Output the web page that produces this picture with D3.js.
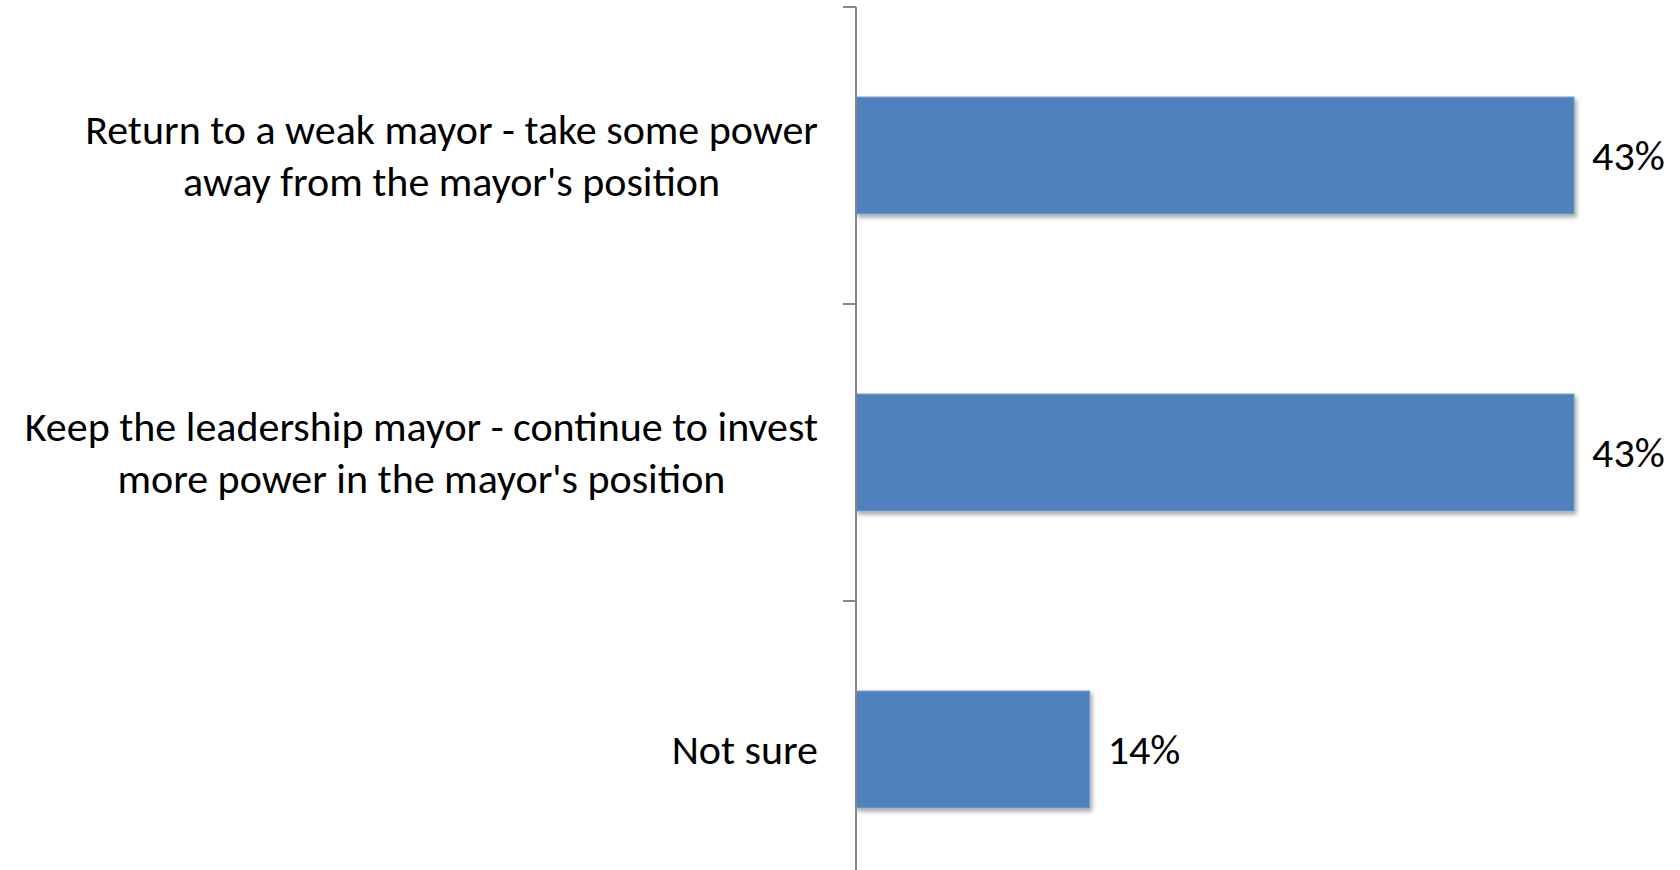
<!DOCTYPE html>
<html>
<head>
<meta charset="utf-8">
<script src="https://cdn.jsdelivr.net/npm/d3@7.9.0/dist/d3.min.js"></script>
<style>
  html, body { margin: 0; padding: 0; background: #fff; overflow: hidden; }
  svg { display: block; }
  text { font-family: Carlito, Calibri, Lato, "Open Sans", sans-serif; fill: #000; }
</style>
</head>
<body>
<svg width="1680" height="870"></svg>
<script>
// chart data
const categories = [
  ['Return to a weak mayor - take some power', "away from the mayor's position"],
  ['Keep the leadership mayor - continue to invest', "more power in the mayor's position"],
  ['Not sure']
];
const values = [0.43, 0.43, 0.14];

const svg = d3.select('svg');
const fontSize = 42;
const axisX = 856;
const labelRight = axisX - 38;

// Drop shadow under the bars
const defs = svg.append('defs');
const shadow = defs.append('filter').attr('id', 'shadow')
  .attr('x', '-5%').attr('y', '-5%').attr('width', '115%').attr('height', '120%');
shadow.append('feDropShadow')
  .attr('dx', 2).attr('dy', 3).attr('stdDeviation', 2)
  .attr('flood-color', '#000').attr('flood-opacity', 0.35);

let x = d3.scaleLinear().domain([0, 0.5]).range([axisX, axisX + 835]);
let y = d3.scaleBand()
  .domain(d3.range(categories.length))
  .range([7, 898])
  .paddingInner(0.606)
  .paddingOuter(0.303);

// Bars
svg.append('g').selectAll('rect')
  .data(values)
  .join('rect')
  .attr('x', x(0))
  .attr('y', (d, i) => y(i))
  .attr('width', d => x(d) - x(0))
  .attr('height', y.bandwidth())
  .attr('fill', '#4F81BD')
  .attr('stroke', '#7FA3D0')
  .attr('stroke-width', 1)
  .attr('filter', 'url(#shadow)');

// Value labels
const valueLabels = svg.append('g').selectAll('text')
  .data(values)
  .join('text')
  .attr('x', d => x(d) + 18)
  .attr('y', (d, i) => y(i) + y.bandwidth() / 2 + 14)
  .attr('font-size', fontSize)
  .text(d => d3.format('.0%')(d));

// Axis line and ticks at band boundaries
const axis = svg.append('g').attr('stroke', '#868686').attr('stroke-width', 2);
axis.append('line')
  .attr('x1', axisX).attr('x2', axisX)
  .attr('y1', y.range()[0]).attr('y2', y.range()[1]);
axis.selectAll('.tick')
  .data(d3.range(categories.length + 1))
  .join('line')
  .attr('class', 'tick')
  .attr('x1', axisX - 13).attr('x2', axisX)
  .attr('y1', i => y.range()[0] + i * y.step())
  .attr('y2', i => y.range()[0] + i * y.step());

// Category labels: block right aligned to the axis, lines centred in the block
const lineHeight = 52;
const labels = svg.append('g').selectAll('text')
  .data(categories)
  .join('text')
  .attr('text-anchor', 'middle')
  .attr('font-size', fontSize);

labels.each(function (lines, i) {
  const cy = y(i) + y.bandwidth() / 2;
  const top = cy - (lines.length - 1) * lineHeight / 2 + 14;
  d3.select(this).selectAll('tspan')
    .data(lines)
    .join('tspan')
    .attr('y', (d, j) => top + j * lineHeight)
    .text(d => d);
});

// Fit the substitute font to the original label width
let widest = 0;
labels.selectAll('tspan').each(function () {
  widest = Math.max(widest, this.getComputedTextLength());
});
if (widest > 807) {
  const fitted = fontSize * 807 / widest;
  labels.attr('font-size', fitted);
  valueLabels.attr('font-size', Math.max(fitted, fontSize * 0.92));
}

labels.each(function () {
  let w = 0;
  d3.select(this).selectAll('tspan').each(function () {
    w = Math.max(w, this.getComputedTextLength());
  });
  d3.select(this).selectAll('tspan').attr('x', labelRight - w / 2);
});
</script>
</body>
</html>
